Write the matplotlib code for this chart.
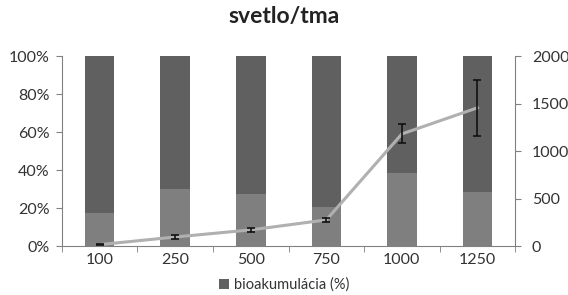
import matplotlib.pyplot as plt
import numpy as np

categories = ['100', '250', '500', '750', '1000', '1250']
bio_pct = [17.5, 30, 27.5, 20.5, 38.5, 28.5]          # light lower part (%)
rest_pct = [100 - v for v in bio_pct]                 # dark upper part (%)
line_vals = [15, 95, 170, 275, 1180, 1455]
line_err = [5, 20, 20, 25, 100, 295]

plt.rcParams['font.family'] = ['Lato', 'DejaVu Sans']

fig = plt.figure(figsize=(5.68, 2.95), dpi=100)
ax = fig.add_axes([0.109, 0.166, 0.798, 0.644])
x = np.arange(len(categories))

ax.bar(x, bio_pct, width=0.39, color='#7f7f7f', zorder=2)
ax.bar(x, rest_pct, width=0.39, bottom=bio_pct, color='#606060', zorder=2,
       label='bioakumulácia (%)')
ax.set_xlim(-0.5, len(categories) - 0.5)
ax.set_ylim(0, 100)
ax.set_yticks(range(0, 101, 20))
ax.set_yticklabels(['{}%'.format(v) for v in range(0, 101, 20)])
ax.set_xticks(x)
ax.set_xticklabels(categories)
ax.set_xticks(np.arange(-0.5, len(categories)), minor=True)
ax.tick_params(axis='x', which='major', length=0, pad=5)
ax.tick_params(axis='x', which='minor', length=4, color='#808080')
ax.tick_params(axis='y', length=4, color='#808080', pad=5)
ax.tick_params(labelsize=11.5, labelcolor='#333333')
for s in ['top', 'right']:
    ax.spines[s].set_visible(False)
for s in ['left', 'bottom']:
    ax.spines[s].set_color('#808080')

ax2 = ax.twinx()
ax2.plot(x, line_vals, color='#b0b0b0', lw=2.2, zorder=3)
ax2.errorbar(x, line_vals, yerr=line_err, fmt='none', ecolor='#111111',
             elinewidth=1.2, capsize=3, capthick=1.2, zorder=4)
ax2.set_ylim(0, 2000)
ax2.set_yticks(range(0, 2001, 500))
ax2.tick_params(axis='y', length=4, color='#808080', pad=8, labelsize=11.5,
                labelcolor='#333333')
for s in ['top', 'left', 'bottom']:
    ax2.spines[s].set_visible(False)
ax2.spines['right'].set_color('#808080')

fig.suptitle('svetlo/tma', x=0.5, y=0.98, fontsize=16.5, fontweight='bold',
             color='#222222')
fig.legend(loc='lower center', bbox_to_anchor=(0.5, -0.035), frameon=False,
           fontsize=10.5, handlelength=0.7, handleheight=0.7, handletextpad=0.3,
           labelcolor='#333333')

fig.savefig('out.png', dpi=100)
